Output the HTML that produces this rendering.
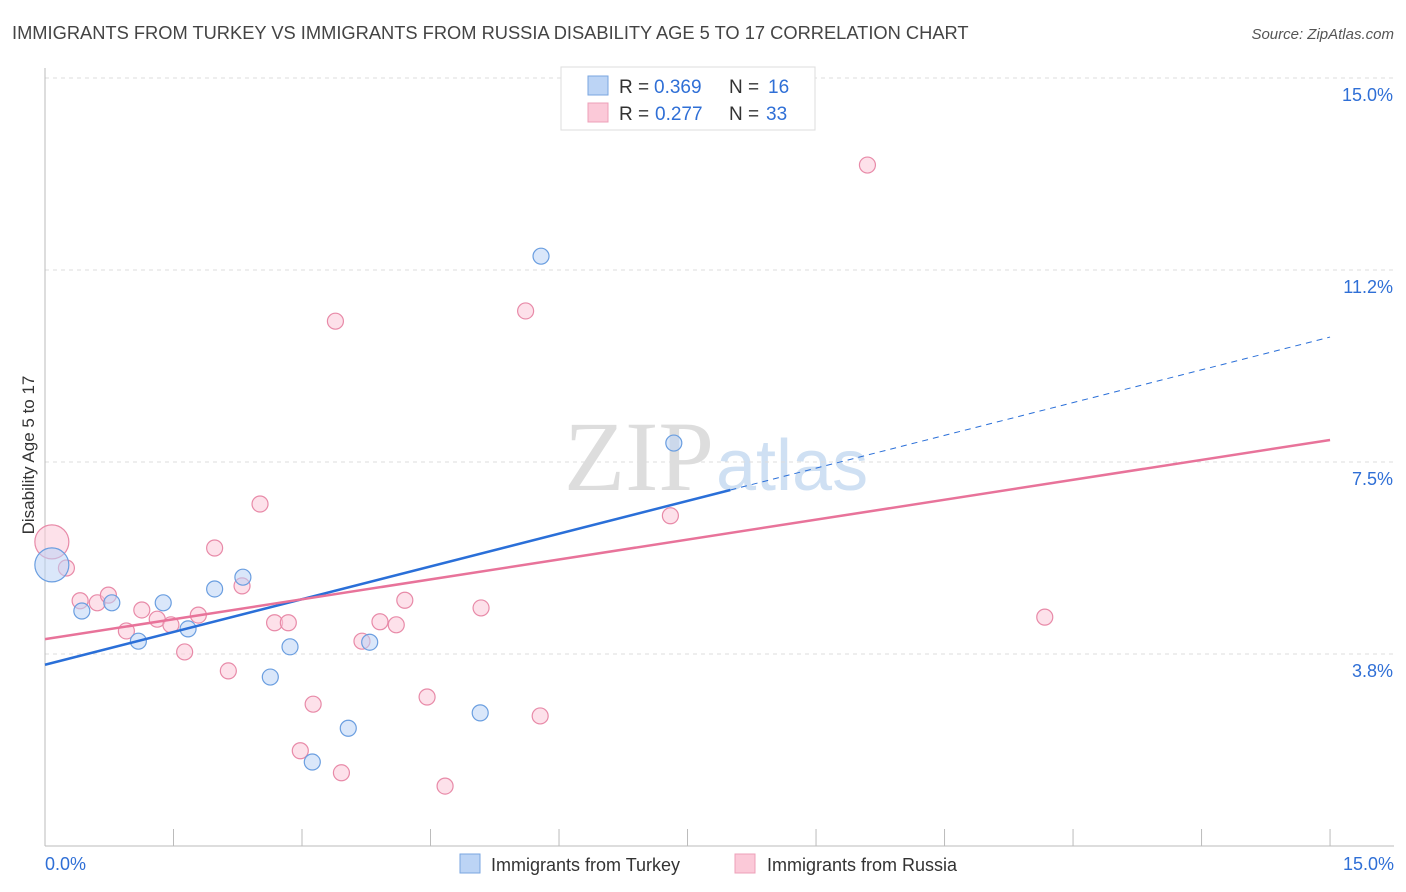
<!DOCTYPE html>
<html><head><meta charset="utf-8"><style>
body{margin:0;background:#fff;font-family:"Liberation Sans",sans-serif;}
svg{display:block}
</style></head><body>
<svg id="chart" width="1406" height="892">
<text x="12" y="39" font-size="18.3" fill="#444">IMMIGRANTS FROM TURKEY VS IMMIGRANTS FROM RUSSIA DISABILITY AGE 5 TO 17 CORRELATION CHART</text>
<text x="1394" y="39" font-size="15" fill="#555" font-style="italic" text-anchor="end">Source: ZipAtlas.com</text>
<text x="714" y="490" font-size="100" fill="#ddd" text-anchor="end" font-family="Liberation Serif,serif">ZIP</text>
<text x="716" y="490" font-size="72" fill="#cfe0f3">atlas</text>
<text transform="translate(34,455) rotate(-90)" font-size="17" fill="#333" text-anchor="middle">Disability Age 5 to 17</text>
<g id="grid"></g><g id="marks"></g>
<g>
<rect x="561" y="67" width="254" height="63" fill="#fff" stroke="#ddd"/>
<rect x="588" y="76" width="20" height="19" fill="#bcd4f5" stroke="#7aa6e0"/>
<rect x="588" y="103" width="20" height="19" fill="#fbc9d8" stroke="#eea0b8"/>
<text y="93" font-size="19" fill="#333"><tspan x="619">R =</tspan><tspan x="654" fill="#2f6fd6">0.369</tspan><tspan x="729">N =</tspan><tspan x="768" fill="#2f6fd6">16</tspan></text>
<text y="120" font-size="19" fill="#333"><tspan x="619">R =</tspan><tspan x="655" fill="#2f6fd6">0.277</tspan><tspan x="729">N =</tspan><tspan x="766" fill="#2f6fd6">33</tspan></text>
</g>
<g>
<rect x="460" y="854" width="20" height="19" fill="#bcd4f5" stroke="#7aa6e0"/>
<text x="491" y="871" font-size="18" fill="#333">Immigrants from Turkey</text>
<rect x="735" y="854" width="20" height="19" fill="#fbc9d8" stroke="#eea0b8"/>
<text x="767" y="871" font-size="18" fill="#333">Immigrants from Russia</text>
</g>
</svg>
<script>
const yTicks=[3.75,7.5,11.25,15];
const yTickLabels=["3.8%","7.5%","11.2%","15.0%"];
const xTicks=[0,1.5,3,4.5,6,7.5,9,10.5,12,13.5,15];
const turkeyX=[0.08,0.43,0.78,1.09,1.38,1.67,1.98,2.31,2.63,2.86,3.12,3.54,3.79,5.08,5.79,7.34];
const turkeyY=[5.49,4.59,4.75,4.00,4.75,4.24,5.02,5.25,3.30,3.89,1.64,2.30,3.98,2.60,11.52,7.87];
const russiaX=[0.08,0.25,0.41,0.61,0.74,0.95,1.13,1.31,1.47,1.63,1.79,1.98,2.14,2.30,2.51,2.68,2.84,3.13,2.98,3.39,3.46,3.70,3.91,4.10,4.20,4.46,4.67,5.09,5.61,5.78,7.30,9.60,11.67];
const russiaY=[5.94,5.43,4.79,4.75,4.90,4.20,4.61,4.43,4.32,3.79,4.51,5.82,3.42,5.08,6.68,4.36,4.36,2.77,1.86,10.25,1.43,4.00,4.38,4.32,4.80,2.91,1.17,4.65,10.45,2.54,6.45,13.30,4.47];
const turkeyTrend=[3.54,9.94];
const russiaTrend=[4.04,7.93];
const xs=v=>45+v*85.67, ys=v=>846-v*51.2;
const NS="http://www.w3.org/2000/svg";
function mk(t,a,p){const e=document.createElementNS(NS,t);for(const k in a)e.setAttribute(k,a[k]);p.appendChild(e);return e;}
const g=document.getElementById('grid'), m=document.getElementById('marks');
yTicks.forEach((v,i)=>{
 const l=mk('line',{x1:45,x2:1394,y1:ys(v),y2:ys(v),stroke:'#ddd','stroke-dasharray':'4,4'},g);
 
 
 const t=mk('text',{x:1393,y:ys(v)+23,'font-size':18,fill:'#2f6fd6','text-anchor':'end'},g);t.textContent=yTickLabels[i];
 
 
});
const ax=mk('line',{x1:45,x2:45,y1:68,y2:846,stroke:'#bbb'},g);


const bx=mk('line',{x1:45,x2:1394,y1:846,y2:846,stroke:'#bbb'},g);


xTicks.forEach(v=>{const t=mk('line',{x1:xs(v),x2:xs(v),y1:829,y2:846,stroke:'#bbb'},g);
 
 });
[[0,"0.0%","start",45],[15,"15.0%","end",1394]].forEach(d=>{const t=mk('text',{x:d[3],y:870,'font-size':18,fill:'#2f6fd6','text-anchor':d[2]},g);t.textContent=d[1];
 
 });
function dots(X,Y,f,s,name){X.forEach((x,i)=>{const c=mk('circle',{cx:xs(x),cy:ys(Y[i]),r:i==0?17:8,fill:f,'fill-opacity':0.55,stroke:s,'stroke-width':1.2},m);
 
 });}
dots(russiaX,russiaY,'#fbc9d8','#e88aa8','russia-point');
dots(turkeyX,turkeyY,'#bcd4f5','#6a9ee0','turkey-point');
const bs=(turkeyTrend[1]-turkeyTrend[0])/15, xe=8.0;
const l1=mk('line',{x1:xs(0),y1:ys(turkeyTrend[0]),x2:xs(xe),y2:ys(turkeyTrend[0]+bs*xe),stroke:'#2a6fd8','stroke-width':2.5},m);


const l2=mk('line',{x1:xs(xe),y1:ys(turkeyTrend[0]+bs*xe),x2:xs(15),y2:ys(turkeyTrend[1]),stroke:'#2a6fd8','stroke-width':1,'stroke-dasharray':'6,5'},m);


const l3=mk('line',{x1:xs(0),y1:ys(russiaTrend[0]),x2:xs(15),y2:ys(russiaTrend[1]),stroke:'#e8739a','stroke-width':2.5},m);


</script>
</body></html>
